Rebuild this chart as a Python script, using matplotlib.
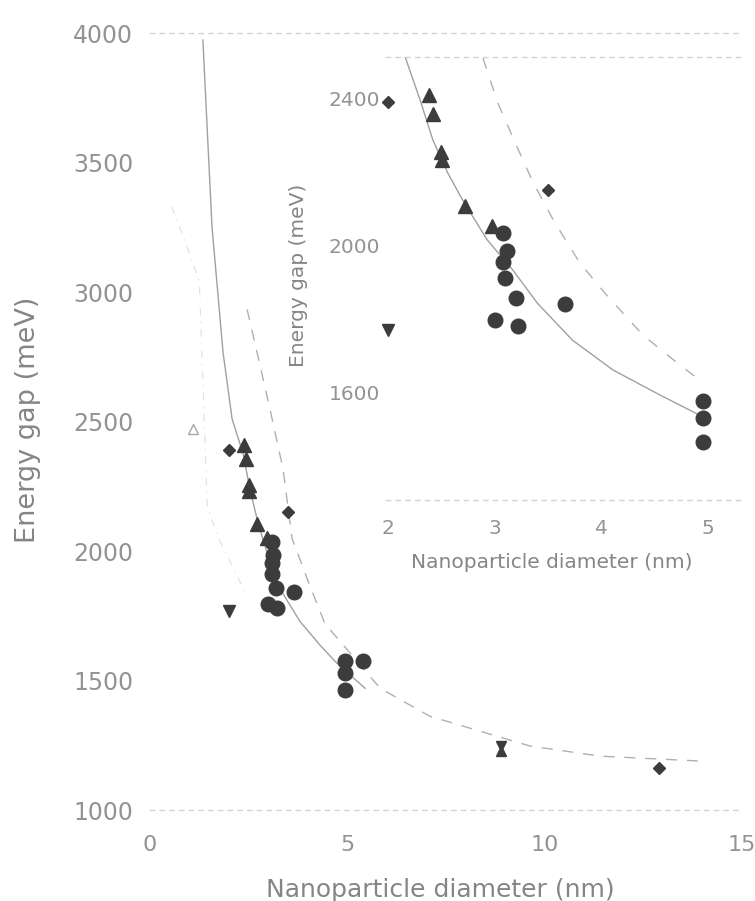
import matplotlib
matplotlib.use("Agg")
import matplotlib.pyplot as plt

plt.rcParams['font.family'] = ['DejaVu Sans']

# measured points: diameter (nm), gap (meV)
circle_d = [3.08, 3.12, 3.08, 3.10, 3.20, 3.66, 3.00, 3.22, 4.95, 4.95, 4.95, 5.40]
circle_e = [2033, 1984, 1954, 1910, 1856, 1840, 1796, 1780, 1575, 1529, 1464, 1574]

tri_up_d = [2.38, 2.42, 2.50, 2.51, 2.72, 2.97]
tri_up_e = [2408, 2356, 2253, 2231, 2106, 2052]

tri_down_d = [2.00]
tri_down_e = [1770]

# the pair of small triangles and the diamond at large sizes
big_up_d = [8.90]
big_up_e = [1226]
big_down_d = [8.90]
big_down_e = [1248]

diamond_d = [2.00, 3.50, 12.90]
diamond_e = [2390, 2150, 1162]

open_tri_d = [1.10]
open_tri_e = [2470]

# model curves
solid_d = [1.34, 1.57, 1.85, 2.08, 2.36, 2.53, 2.74, 2.99, 3.29, 3.80, 4.31, 4.74, 5.45]
solid_e = [3973, 3253, 2768, 2510, 2375, 2240, 2106, 1982, 1855, 1728, 1636, 1566, 1470]

dashed_d = [2.46, 2.74, 3.04, 3.37, 3.60, 3.98, 4.43, 5.83, 7.09, 9.63, 11.40, 13.94]
dashed_e = [2933, 2749, 2548, 2317, 2048, 1894, 1720, 1470, 1362, 1247, 1208, 1189]

faint_d = [0.55, 1.00, 1.25, 1.45, 1.70, 2.40]
faint_e = [3330, 3150, 3040, 2180, 2060, 1845]

# inset curves
in_solid_d = [2.16, 2.30, 2.42, 2.56, 2.70, 2.93, 3.17, 3.40, 3.73, 4.11, 4.55, 4.97]
in_solid_e = [2512, 2395, 2286, 2196, 2122, 2014, 1932, 1842, 1741, 1660, 1592, 1530]

in_dashed_d = [2.89, 3.03, 3.21, 3.36, 3.55, 3.80, 4.05, 4.39, 4.74, 4.92]
in_dashed_e = [2509, 2386, 2267, 2171, 2068, 1951, 1864, 1755, 1673, 1633]

main_xticks = [0, 5, 10, 15]
main_yticks = [1000, 1500, 2000, 2500, 3000, 3500, 4000]
inset_xticks = [2, 3, 4, 5]
inset_yticks = [1600, 2000, 2400]

mark_col = '#3c3c3c'
tick_col = '#939393'
label_col = '#858585'
line_col = '#a0a0a0'


def draw_points(ax, dmax):
    def keep(xs, ys):
        pts = [(x, y) for x, y in zip(xs, ys) if x <= dmax]
        return [p[0] for p in pts], [p[1] for p in pts]

    kw = dict(color=mark_col, mec=mark_col, ls='none', clip_on=False)
    ax.plot(*keep(circle_d, circle_e), marker='o', ms=10.5, **kw)
    ax.plot(*keep(tri_up_d, tri_up_e), marker='^', ms=10, **kw)
    ax.plot(*keep(tri_down_d, tri_down_e), marker='v', ms=9, **kw)
    ax.plot(*keep(big_up_d, big_up_e), marker='^', ms=7, **kw)
    ax.plot(*keep(big_down_d, big_down_e), marker='v', ms=7, **kw)
    ax.plot(*keep(diamond_d, diamond_e), marker='D', ms=6.3, **kw)


def style_frame(ax):
    for side in ['left', 'right']:
        ax.spines[side].set_visible(False)
    for side in ['top', 'bottom']:
        ax.spines[side].set_linestyle((0, (3, 4)))
        ax.spines[side].set_color('#d2d2d2')
        ax.spines[side].set_linewidth(1.0)
    ax.tick_params(length=0, colors=tick_col)


fig = plt.figure(figsize=(7.55, 9.01), dpi=100)

# main panel
ax = fig.add_axes([150 / 755, 1 - 810 / 901, 592 / 755, 777 / 901])
ax.plot(faint_d, faint_e, color='#e2e2e2', lw=0.9, ls=(0, (6, 5, 1, 5)))
ax.plot(solid_d, solid_e, color=line_col, lw=1.0)
ax.plot(dashed_d, dashed_e, color='#b0b0b0', lw=1.0, ls=(0, (8, 7)))
ax.plot(open_tri_d, open_tri_e, '^', mfc='none', mec='#a8a8a8', ms=7)
draw_points(ax, 20)
ax.set_xlim(0, 15)
ax.set_ylim(1000, 4000)
ax.set_xticks(main_xticks)
ax.set_yticks(main_yticks)
style_frame(ax)
ax.tick_params(axis='x', pad=18, labelsize=16)
ax.tick_params(axis='y', pad=12, labelsize=17)
ax.set_xlabel('Nanoparticle diameter (nm)', fontsize=18, color=label_col)
ax.set_ylabel('Energy gap (meV)', fontsize=19.5, color=label_col)
ax.xaxis.label.set_va('center')
ax.yaxis.label.set_va('center')
ax.xaxis.set_label_coords(0.49, -0.103)
ax.yaxis.set_label_coords(-0.206, 0.502)

# inset panel
ins = fig.add_axes([386 / 755, 1 - 500 / 901, 357 / 755, 443 / 901])
ins.set_facecolor('white')
ins.plot(in_solid_d, in_solid_e, color=line_col, lw=1.0)
ins.plot(in_dashed_d, in_dashed_e, color='#b0b0b0', lw=1.0, ls=(0, (8, 9)))
draw_points(ins, 5.1)
ins.set_xlim(1.98, 5.33)
ins.set_ylim(1306, 2512)
ins.set_xticks(inset_xticks)
ins.set_yticks(inset_yticks)
style_frame(ins)
ins.tick_params(axis='x', pad=14, labelsize=14.5)
ins.tick_params(axis='y', pad=4, labelsize=14.5)
ins.set_xlabel('Nanoparticle diameter (nm)', fontsize=14.5, color=label_col)
ins.set_ylabel('Energy gap (meV)', fontsize=14.5, color=label_col)
ins.xaxis.label.set_va('center')
ins.yaxis.label.set_va('center')
ins.xaxis.set_label_coords(0.465, -0.142)
ins.yaxis.set_label_coords(-0.246, 0.508)

fig.savefig('out.png', dpi=100)
